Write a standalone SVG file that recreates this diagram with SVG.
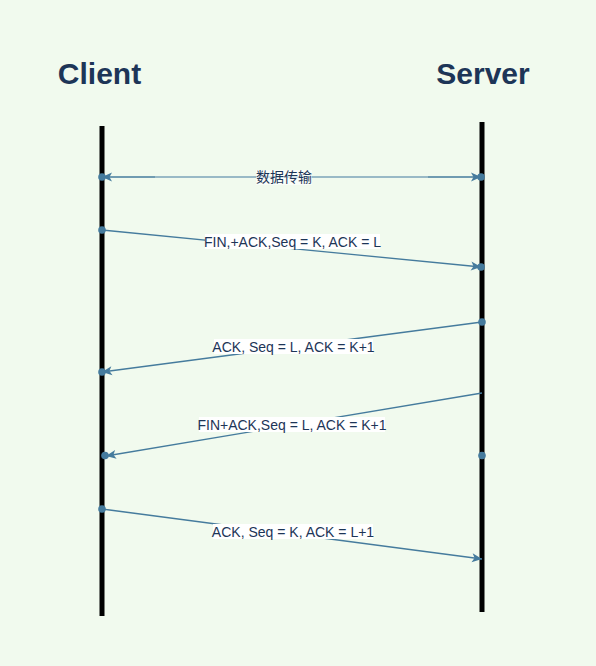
<svg xmlns="http://www.w3.org/2000/svg" width="596" height="666" viewBox="0 0 596 666">
<style>
.title{font-family:"Liberation Sans",Arial,sans-serif;font-weight:bold;font-size:30px;fill:#1D3557;text-anchor:middle}
.lbl{font-family:"Liberation Sans","Noto Sans CJK SC",Arial,sans-serif;font-size:14px;fill:#1D3557;text-anchor:middle;dominant-baseline:central}
.lbg{fill:#FFFFFF}
.life{stroke:#000000;stroke-width:5;fill:none}
.msg{stroke:#457B9D;stroke-width:1.3;fill:none}
.dot{fill:#457B9D}
</style>
<defs>
<marker id="ah" viewBox="-11 -5 12 10" refX="0" refY="0" markerWidth="12" markerHeight="10" markerUnits="userSpaceOnUse" orient="auto-start-reverse">
<path d="M0,0 L-10,-4.5 L-7.5,0 L-10,4.5 Z" fill="#457B9D"/>
</marker>
</defs>
<rect width="596" height="666" fill="#F1FAEE"/>
<g id="client">
<text class="title" x="99.5" y="84">Client</text>
<line class="life" x1="102" y1="126" x2="102" y2="616"/>
</g>
<g id="server">
<text class="title" x="483" y="84">Server</text>
<line class="life" x1="482" y1="122" x2="482" y2="612"/>
</g>
<g id="connectors">
<g id="m1">
<line x1="155" y1="177" x2="428" y2="177" stroke="#7BA3B8" stroke-width="1.3"/>
<line class="msg" x1="102" y1="177" x2="155" y2="177" marker-start="url(#ah)"/>
<line class="msg" x1="428" y1="177" x2="481" y2="177" marker-end="url(#ah)"/>
<circle class="dot" cx="102" cy="177" r="3.8"/>
<circle class="dot" cx="481" cy="177" r="3.8"/>
<rect class="lbg" x="256" y="170" width="56" height="15" fill-opacity="0.6"/>
<text class="lbl" x="284" y="177">数据传输</text>
</g>
<g id="m2">
<line class="msg" x1="102" y1="230" x2="481" y2="267" marker-end="url(#ah)"/>
<circle class="dot" cx="102" cy="230" r="3.8"/>
<circle class="dot" cx="481" cy="267" r="3.8"/>
<rect class="lbg" x="205" y="234" width="175" height="15"/>
<text class="lbl" x="292.5" y="241.5">FIN,+ACK,Seq = K, ACK = L</text>
</g>
<g id="m3">
<line class="msg" x1="482" y1="322" x2="102" y2="372" marker-end="url(#ah)"/>
<circle class="dot" cx="482" cy="322" r="3.8"/>
<circle class="dot" cx="102" cy="372" r="3.8"/>
<rect class="lbg" x="214" y="339" width="159" height="15"/>
<text class="lbl" x="293.5" y="346.5">ACK, Seq = L, ACK = K+1</text>
</g>
<g id="m4">
<line class="msg" x1="482" y1="393" x2="106" y2="456" marker-end="url(#ah)"/>
<circle class="dot" cx="105" cy="455.5" r="3.8"/>
<circle class="dot" cx="482" cy="455.5" r="3.8"/>
<rect class="lbg" x="199" y="417" width="186" height="15"/>
<text class="lbl" x="292" y="424.5">FIN+ACK,Seq = L, ACK = K+1</text>
</g>
<g id="m5">
<line class="msg" x1="102" y1="509" x2="482" y2="559" marker-end="url(#ah)"/>
<circle class="dot" cx="102" cy="509" r="3.8"/>
<rect class="lbg" x="213" y="524" width="160" height="15"/>
<text class="lbl" x="293" y="531.5">ACK, Seq = K, ACK = L+1</text>
</g>
</g>
</svg>
